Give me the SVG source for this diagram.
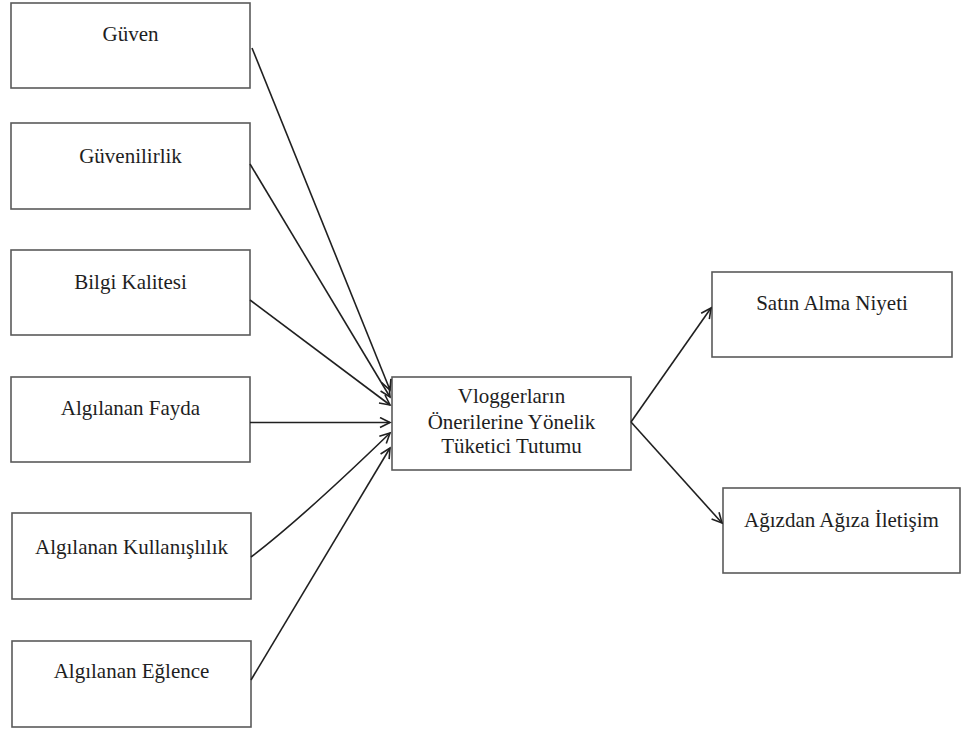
<svg xmlns="http://www.w3.org/2000/svg" width="961" height="730" viewBox="0 0 961 730">
  <style>
    .box { fill: #ffffff; stroke: #5a5a5a; stroke-width: 1.6; }
    .lbl { font-family: "Liberation Serif", "Times New Roman", serif; font-size: 21px; fill: #1e1e1e; text-anchor: middle; }
    .edge { fill: none; stroke: #202020; stroke-width: 1.6; marker-end: url(#arrow); }
  </style>
  <defs>
    <marker id="arrow" markerUnits="userSpaceOnUse" markerWidth="14" markerHeight="14" refX="11" refY="6" orient="auto">
      <path d="M1,1 L11,6 L1,11" fill="none" stroke="#202020" stroke-width="1.6"/>
    </marker>
  </defs>
  <rect width="961" height="730" fill="#ffffff"/>

  <!-- antecedent constructs -->
  <g id="guven">
    <rect class="box" x="11" y="3" width="239" height="85"/>
    <text class="lbl" x="130.5" y="41">Güven</text>
  </g>
  <g id="guvenilirlik">
    <rect class="box" x="11" y="123" width="239" height="86"/>
    <text class="lbl" x="130.5" y="163">Güvenilirlik</text>
  </g>
  <g id="bilgi-kalitesi">
    <rect class="box" x="11" y="250" width="239" height="85"/>
    <text class="lbl" x="130.5" y="289">Bilgi Kalitesi</text>
  </g>
  <g id="algilanan-fayda">
    <rect class="box" x="11" y="377" width="239" height="85"/>
    <text class="lbl" x="130.5" y="415">Algılanan Fayda</text>
  </g>
  <g id="algilanan-kullanislilik">
    <rect class="box" x="12" y="513" width="239" height="86"/>
    <text class="lbl" x="131.5" y="554">Algılanan Kullanışlılık</text>
  </g>
  <g id="algilanan-eglence">
    <rect class="box" x="12" y="641" width="239" height="86"/>
    <text class="lbl" x="131.5" y="678">Algılanan Eğlence</text>
  </g>

  <!-- mediating attitude -->
  <g id="tuketici-tutumu">
    <rect class="box" x="392" y="377" width="239" height="93"/>
    <text class="lbl" x="511.5" y="403">Vloggerların</text>
    <text class="lbl" x="511.5" y="429">Önerilerine Yönelik</text>
    <text class="lbl" x="511.5" y="453">Tüketici Tutumu</text>
  </g>

  <!-- outcomes -->
  <g id="satin-alma-niyeti">
    <rect class="box" x="712" y="272" width="240" height="85"/>
    <text class="lbl" x="832" y="310">Satın Alma Niyeti</text>
  </g>
  <g id="agizdan-agiza">
    <rect class="box" x="723" y="488" width="237" height="85"/>
    <text class="lbl" x="841.5" y="527">Ağızdan Ağıza İletişim</text>
  </g>

  <!-- paths -->
  <g id="connectors">
    <path class="edge" d="M252,48 L390,390"/>
    <path class="edge" d="M250,164 L390,397"/>
    <path class="edge" d="M250,300 L390,405"/>
    <path class="edge" d="M250,422.5 L390,422.5"/>
    <path class="edge" d="M251,557 Q300,520 390,433"/>
    <path class="edge" d="M251,680 L390,448"/>
    <path class="edge" d="M631,422 L711,308"/>
    <path class="edge" d="M631,422 L722,523"/>
  </g>
</svg>
